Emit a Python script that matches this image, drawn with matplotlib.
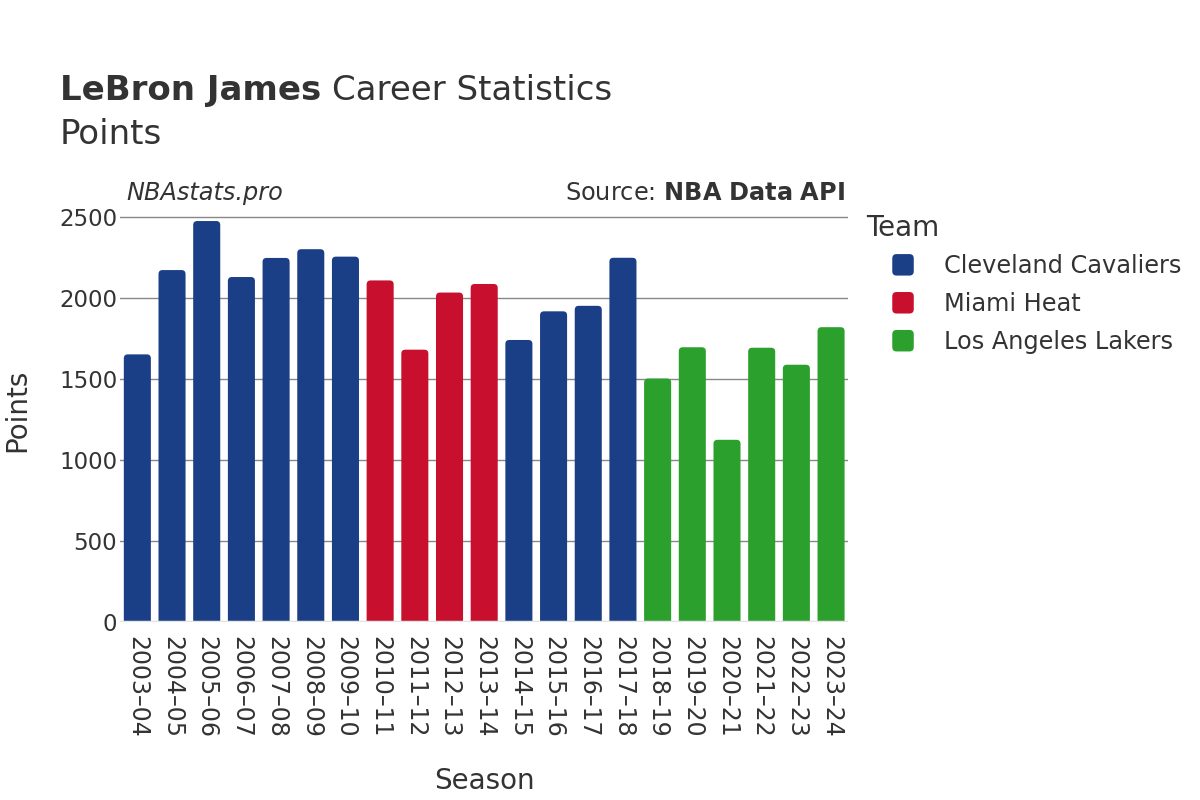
import matplotlib
matplotlib.use("Agg")
import matplotlib.pyplot as plt
from matplotlib.patches import FancyBboxPatch, Patch
from matplotlib.legend_handler import HandlerPatch

seasons = ["2003–04", "2004–05", "2005–06", "2006–07", "2007–08", "2008–09", "2009–10",
           "2010–11", "2011–12", "2012–13", "2013–14", "2014–15", "2015–16", "2016–17",
           "2017–18", "2018–19", "2019–20", "2020–21", "2021–22", "2022–23", "2023–24"]
points = [1654, 2175, 2478, 2132, 2250, 2304, 2258, 2111, 1683, 2036, 2089, 1743, 1920,
          1954, 2251, 1505, 1698, 1126, 1695, 1590, 1822]
teams = ["Cleveland Cavaliers"] * 7 + ["Miami Heat"] * 4 + ["Cleveland Cavaliers"] * 4 + \
        ["Los Angeles Lakers"] * 6
team_order = ["Cleveland Cavaliers", "Miami Heat", "Los Angeles Lakers"]
team_colors = {"Cleveland Cavaliers": "#1b3f87", "Miami Heat": "#c8102e",
               "Los Angeles Lakers": "#2ca02c"}

plt.rcParams['font.family'] = ['DejaVu Sans']
txt = "#333333"

fig = plt.figure(figsize=(12, 8), dpi=100)
ax = fig.add_axes([0.1, 0.2225, 0.607, 0.5275])
ymax = 2608
ax.set_xlim(-0.5, len(seasons) - 0.5)
ax.set_ylim(0, ymax)

width = 0.78
ax_w_px = 0.607 * 1200
ax_h_px = 0.5275 * 800
x_per_px = len(seasons) / ax_w_px
y_per_px = ymax / ax_h_px
r = 4 * x_per_px
aspect = y_per_px / x_per_px
below = 40  # extend below zero so bottom corners are clipped away

for y in [500, 1000, 1500, 2000, 2500]:
    ax.axhline(y, color="#888888", lw=1, zorder=0)
ax.axhline(0, color="#e3e3e3", lw=2.5, zorder=3)

for i, (v, t) in enumerate(zip(points, teams)):
    p = FancyBboxPatch((i - width / 2, -below), width, v + below,
                       boxstyle=f"round,pad=0,rounding_size={r}",
                       mutation_aspect=aspect, facecolor=team_colors[t],
                       edgecolor="none", zorder=2)
    ax.add_patch(p)

for s in ax.spines.values():
    s.set_visible(False)
ax.set_xticks(range(len(seasons)))
ax.set_xticklabels(seasons, rotation=270, fontsize=17, color=txt)
ax.set_yticks([0, 500, 1000, 1500, 2000, 2500])
ax.set_yticklabels(["0", "500", "1000", "1500", "2000", "2500"], fontsize=16.5, color=txt)
ax.tick_params(axis="x", length=0, pad=10)
ax.tick_params(axis="y", length=0, pad=2)

t1 = fig.text(0.05, 0.875, "LeBron James", fontsize=24.5, fontweight="bold", color=txt,
              va="baseline")
fig.canvas.draw()
bb = t1.get_window_extent()
fig.text((bb.x1 + 11) / 1200, 0.875, "Career Statistics", fontsize=24.5, color=txt,
         va="baseline")
fig.text(0.05, 0.82, "Points", fontsize=24.5, color=txt, va="baseline")
fig.text(0.105, 0.75, "NBAstats.pro", fontsize=17.3, style="italic", color=txt, va="baseline")
fig.text(0.704, 0.75, "Source: $\\bf{NBA\\ Data\\ API}$", fontsize=17.3, color=txt,
         va="baseline", ha="right")
fig.text(0.003, 0.4875, "Points", fontsize=20, color=txt, rotation=90, va="center", ha="left")
fig.text(0.404, 0.014, "Season", fontsize=20, color=txt, ha="center", va="baseline")
fig.text(0.7217, 0.705, "Team", fontsize=20, color=txt, va="baseline", ha="left")


class RoundHandler(HandlerPatch):
    def create_artists(self, legend, orig_handle, xdescent, ydescent, width, height,
                       fontsize, trans):
        s = min(width, height)
        p = FancyBboxPatch((-xdescent + (width - s) / 2, -ydescent + (height - s) / 2), s, s,
                           boxstyle=f"round,pad=0,rounding_size={s * 0.2}",
                           facecolor=orig_handle.get_facecolor(), edgecolor="none",
                           transform=trans)
        return [p]


handles = [Patch(facecolor=team_colors[t], edgecolor="none") for t in team_order]
leg = fig.legend(handles, team_order, loc="center left", bbox_to_anchor=(0.7425, 0.62),
                 frameon=False, fontsize=17.3,
                 handlelength=1.0, handleheight=1.0, handletextpad=1.2, labelspacing=0.58,
                 borderaxespad=0, borderpad=0,
                 handler_map={Patch: RoundHandler()})
for t in leg.get_texts():
    t.set_color(txt)

fig.savefig("out.png", dpi=100, facecolor="white")
